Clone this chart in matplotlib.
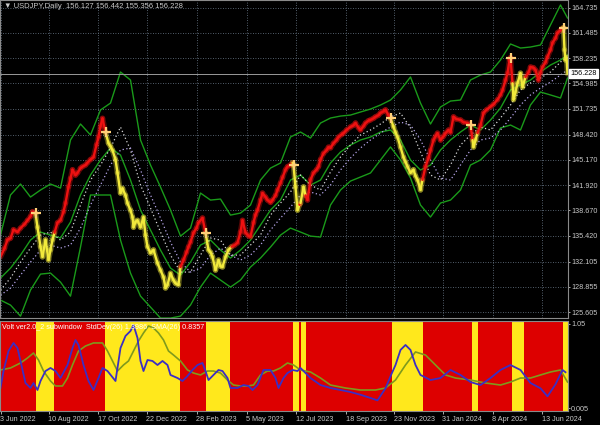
import numpy as np
import matplotlib
matplotlib.use("Agg")
import matplotlib.pyplot as plt
from matplotlib.collections import LineCollection

plt.rcParams["font.family"] = ["Liberation Sans", "DejaVu Sans"]

# ---- price data (x = bar index, one bar per trading day) ----
close_x = [0, 4, 7, 10, 13, 17, 20, 24, 27, 30, 32, 35,
           37, 40, 42, 45, 48, 50, 52, 54,
           57, 60, 63, 65, 68, 70, 72, 75, 77, 80, 82, 85, 87, 90, 93, 96, 98, 100, 102, 105,
           108, 110, 112, 115, 117, 120, 122, 125, 127, 130, 132, 133, 135, 137, 140, 143, 145, 147,
           150, 153, 157, 160, 163, 165, 167, 170, 173, 175, 178,
           180, 183, 186, 188, 190, 193, 196, 198, 202, 205,
           208, 210, 212, 215, 218, 220, 222, 225, 228, 231,
           234, 237, 240, 242, 245, 248, 250, 253, 255, 257, 260, 262, 265, 267, 270, 272, 275, 277,
           280, 282, 285, 287, 290, 292, 293,
           295, 297, 299, 300, 303, 305, 307,
           310, 313, 316, 318, 320, 323, 326, 328, 330, 333, 336, 338, 341, 343, 346, 350, 353, 355,
           358, 360, 363, 365, 368, 370, 373, 375, 378, 380, 383, 385, 388, 390,
           393, 395, 397, 400, 403, 405, 407, 410, 413, 415, 417, 420, 422,
           425, 428, 430, 433, 435, 437, 440, 443, 445, 448, 450, 453, 456, 460, 463, 467, 470,
           472, 473, 475, 477,
           480, 483, 486, 490, 493, 497, 500, 502, 505, 507, 509, 510,
           512, 513, 515, 517, 520, 522,
           525, 528, 530, 533, 535, 538, 540, 542, 545, 547, 550, 552, 555, 557, 560, 562, 563,
           564, 565, 566, 567]
close = [132.7, 133.8, 134.9, 135.1, 136.2, 135.9, 136.4, 136.9, 137.4, 137.9, 138.5, 138.3,
         136.5, 134.0, 132.7, 134.9, 132.3, 133.6, 134.9, 135.8,
         137.1, 137.4, 138.5, 139.6, 141.7, 142.8, 143.9, 143.2, 143.5, 144.1, 144.3, 144.5, 144.8, 145.2, 145.5, 147.1, 148.1, 149.5, 150.5, 148.7,
         147.3, 146.9, 146.4, 145.2, 143.5, 140.9, 141.5, 140.6, 139.6, 138.7, 137.8, 136.5, 137.2, 137.4, 136.5, 137.8, 135.5, 134.0,
         133.2, 133.6, 131.9, 131.0, 130.1, 128.7, 129.1, 130.6, 129.7, 129.3, 129.1,
         131.4, 132.3, 133.3, 134.0, 134.6, 135.8, 136.4, 137.1, 137.7, 135.8,
         133.6, 133.3, 132.7, 131.0, 132.3, 131.5, 131.4, 132.7, 133.6, 134.0,
         134.2, 134.5, 135.9, 137.4, 135.8, 135.4, 135.3, 137.1, 138.1, 138.7, 140.0, 140.9, 140.4, 140.0, 139.7, 140.0, 140.6, 141.3,
         142.2, 142.9, 143.9, 144.3, 144.5, 144.8, 144.5,
         141.7, 138.7, 139.4, 139.6, 141.7, 140.6, 140.0,
         142.6, 143.5, 143.9, 144.3, 145.2, 146.0, 146.4, 146.8, 146.7, 147.3, 147.7, 148.1, 148.4, 148.6, 149.0, 149.4, 149.6, 149.9,
         149.3, 149.0, 149.5, 149.9, 150.2, 150.3, 150.5, 150.7, 150.9, 151.2, 151.4, 151.6, 150.9, 150.5,
         149.4, 148.7, 148.1, 146.8, 145.5, 144.9, 144.3, 143.5, 143.9, 143.1, 142.6, 141.3, 142.6,
         144.3, 145.4, 146.4, 147.7, 148.2, 148.6, 147.7, 148.2, 148.6, 149.0, 148.7, 150.7, 150.4, 150.3, 150.0, 149.9, 149.6,
         147.7, 146.8, 147.7, 148.6,
         149.6, 151.2, 151.6, 152.0, 152.3, 152.9, 153.5, 154.1, 155.4, 156.3, 158.0, 158.3,
         155.0, 152.9, 153.9, 155.0, 156.3, 154.5,
         155.8, 156.4, 157.1, 157.0, 156.7, 155.4, 156.4, 157.1, 157.7, 158.4, 159.3, 160.2, 160.8, 161.5, 161.8, 162.1, 162.1,
         159.3, 158.0, 158.3, 156.228]

# ---- envelope / moving average lines, read every 10 bars ----
band_x = [0, 10, 20, 30, 40, 50, 60, 70, 80, 90, 100, 110, 120, 130, 140, 150, 160, 170, 180, 190,
          200, 210, 220, 230, 240, 250, 260, 270, 280, 290, 300, 310, 320, 330, 340, 350, 360, 370,
          380, 390, 400, 410, 420, 430, 440, 450, 460, 470, 480, 490, 500, 510, 520, 530, 540, 550,
          560, 567]
upper = [135.50, 140.65, 142.06, 140.39, 141.29, 142.06, 141.54, 147.72, 149.77, 148.36, 151.57, 152.46,
         156.45, 155.42, 147.72, 144.50, 141.67, 138.72, 135.37, 136.40, 140.90, 140.00, 140.13, 138.07,
         138.33, 139.36, 142.57, 144.11, 144.76, 148.10, 148.74, 147.97, 149.89, 150.54, 150.79, 150.92,
         151.31, 151.69, 152.21, 152.85, 154.14, 155.81, 152.46, 149.77, 151.95, 152.72, 152.85, 155.42,
         156.06, 156.45, 157.99, 160.05, 159.53, 159.66, 159.92, 162.49, 165.06, 163.39]
inner = [129.98, 131.26, 132.93, 134.86, 135.89, 135.50, 135.12, 137.17, 140.65, 143.22, 145.15, 146.69,
         145.78, 142.57, 138.72, 136.15, 133.58, 131.26, 130.36, 132.03, 134.22, 134.86, 133.58, 132.55,
         133.58, 134.86, 136.79, 138.72, 140.00, 142.57, 143.22, 141.93, 142.57, 144.76, 146.17, 147.07,
         147.72, 148.10, 148.74, 149.00, 147.72, 145.15, 143.86, 144.50, 146.43, 147.72, 148.74, 149.64,
         149.00, 150.28, 151.82, 154.14, 154.78, 155.42, 156.45, 157.35, 157.99, 158.63]
lower = [127.15, 126.51, 125.09, 128.44, 130.49, 130.62, 129.46, 127.66, 133.96, 140.65, 140.65, 140.65,
         134.86, 130.62, 127.66, 126.25, 124.84, 124.84, 125.09, 126.51, 128.82, 130.62, 129.72, 128.82,
         129.72, 131.39, 132.55, 133.96, 135.50, 136.40, 135.89, 135.37, 135.25, 139.36, 141.29, 142.44,
         142.96, 143.48, 145.15, 146.82, 145.15, 142.83, 139.36, 137.82, 139.62, 140.00, 141.29, 144.50,
         145.15, 146.43, 149.26, 149.64, 149.00, 152.21, 153.88, 153.50, 153.11, 155.68]
ma_fast = [128.44, 129.98, 132.03, 133.83, 135.50, 135.89, 134.86, 135.89, 139.36, 142.57, 144.50, 146.69,
           149.38, 146.43, 141.93, 138.97, 135.89, 132.93, 130.75, 130.75, 132.93, 135.12, 134.86, 132.93,
           132.93, 134.22, 135.50, 138.07, 139.62, 141.03, 143.22, 141.93, 141.29, 143.60, 145.53, 147.07,
           148.36, 149.00, 149.77, 150.67, 151.18, 149.26, 146.17, 143.22, 142.57, 144.50, 147.07, 148.36,
           149.38, 149.00, 150.54, 152.21, 154.14, 155.04, 155.68, 156.45, 157.73, 158.38]
ma_slow = [127.79, 128.69, 130.36, 132.03, 133.58, 134.22, 133.83, 134.22, 136.40, 139.36, 141.93, 144.50,
           146.43, 146.69, 143.86, 140.65, 137.69, 134.60, 132.03, 130.75, 131.26, 132.93, 133.83, 132.93,
           132.29, 132.93, 134.22, 136.15, 137.69, 139.10, 140.65, 141.03, 140.65, 141.93, 143.86, 145.40,
           146.69, 147.72, 148.61, 149.38, 150.02, 149.64, 147.72, 145.15, 142.83, 142.57, 144.50, 146.43,
           147.72, 147.97, 149.00, 150.54, 152.21, 153.50, 154.39, 155.16, 156.06, 156.70]

# trend regime: red (up) ranges, yellow elsewhere
red_start = [0, 54, 180, 230, 299, 306, 423, 478, 524]
red_end = [35, 104, 205, 292, 300, 391, 471, 511, 562]

# turn arrows at end of up-trends
signal_x = [35, 105, 205, 293, 390, 470, 510, 563]
signal_y = [138.33, 148.74, 135.77, 144.50, 150.54, 149.64, 158.25, 162.10]

# ---- sub window: Volt ver2.0 ----
std_x = [0, 3, 8, 13, 17, 20, 25, 30, 33, 37, 40, 45, 50, 55, 60, 67, 72, 75, 78, 83, 88, 93, 98,
         102, 107, 115, 120, 125, 130, 133, 137, 140, 143, 147, 152, 157, 162, 167, 170, 177, 182,
         187, 192, 197, 202, 205, 208, 213, 218, 222, 227, 230, 237, 243, 248, 252, 257, 263, 270,
         275, 278, 283, 287, 292, 297, 300, 310, 320, 330, 340, 350, 360, 370, 377, 385, 390, 395,
         400, 405, 410, 415, 420, 430, 440, 450, 460, 470, 480, 490, 500, 510, 520, 530, 540, 547,
         555, 562, 565]
std_val = [0.254, 0.465, 0.714, 0.814, 0.751, 0.590, 0.316, 0.254, 0.316, 0.229, 0.341, 0.465, 0.503,
           0.465, 0.378, 0.540, 0.751, 0.851, 0.789, 0.540, 0.341, 0.229, 0.378, 0.503, 0.465, 0.341,
           0.751, 0.901, 0.963, 1.037, 0.876, 0.590, 0.465, 0.602, 0.590, 0.540, 0.590, 0.540, 0.416,
           0.378, 0.341, 0.403, 0.478, 0.540, 0.565, 0.465, 0.353, 0.416, 0.478, 0.465, 0.378, 0.254,
           0.254, 0.291, 0.279, 0.229, 0.291, 0.478, 0.478, 0.378, 0.254, 0.378, 0.440, 0.478, 0.465,
           0.503, 0.378, 0.291, 0.254, 0.229, 0.204, 0.170, 0.130, 0.100, 0.250, 0.400, 0.540, 0.727,
           0.789, 0.727, 0.540, 0.416, 0.353, 0.378, 0.478, 0.416, 0.328, 0.291, 0.378, 0.478, 0.540,
           0.478, 0.316, 0.250, 0.150, 0.300, 0.478, 0.450]
sma_x = [0, 10, 20, 27, 33, 38, 43, 50, 55, 62, 67, 72, 78, 85, 93, 102, 107, 112, 117, 123, 128,
         133, 138, 143, 148, 153, 158, 163, 168, 173, 180, 187, 193, 200, 207, 213, 220, 227, 233,
         240, 247, 253, 260, 267, 273, 280, 287, 293, 300, 310, 320, 330, 345, 360, 375, 385, 395,
         405, 415, 425, 435, 445, 455, 470, 485, 500, 510, 520, 530, 540, 550, 560, 567]
sma_val = [0.478, 0.503, 0.565, 0.627, 0.689, 0.602, 0.465, 0.341, 0.279, 0.279, 0.378, 0.540, 0.714,
           0.776, 0.814, 0.814, 0.714, 0.590, 0.465, 0.540, 0.590, 0.714, 0.838, 0.938, 1.025, 1.000,
           0.938, 0.851, 0.714, 0.664, 0.590, 0.478, 0.440, 0.416, 0.465, 0.465, 0.440, 0.353, 0.291,
           0.279, 0.279, 0.291, 0.416, 0.465, 0.465, 0.503, 0.565, 0.540, 0.478, 0.453, 0.378, 0.291,
           0.254, 0.229, 0.229, 0.254, 0.353, 0.540, 0.702, 0.664, 0.540, 0.416, 0.378, 0.353, 0.316,
           0.291, 0.328, 0.378, 0.378, 0.416, 0.453, 0.478, 0.328]

date_pos = [0, 48, 97, 146, 196, 246, 295, 345, 393, 442, 492, 541]
date_labels = ["3 Jun 2022", "10 Aug 2022", "17 Oct 2022", "22 Dec 2022", "28 Feb 2023",
               "5 May 2023", "12 Jul 2023", "18 Sep 2023", "23 Nov 2023", "31 Jan 2024",
               "8 Apr 2024", "13 Jun 2024"]
price_ticks = [164.735, 161.485, 158.235, 154.985, 151.735, 148.420, 145.170, 141.920,
               138.670, 135.420, 132.105, 128.855, 125.605]
last_price = 156.228

RED = "#ee1111"
YEL = "#f2ea3c"
GRID = "#6e7f90"
TXT = "#c8c8c8"

fig = plt.figure(figsize=(6, 4.25), dpi=100, facecolor="black")
W, H = 600.0, 425.0
ax = fig.add_axes([0, 1 - 318 / H, 568 / W, 318 / H], facecolor="black")
ax2 = fig.add_axes([0, 1 - 411 / H, 568 / W, 90 / H])

for a in (ax, ax2):
    for s in a.spines.values():
        s.set_color("#8a8a8a")
        s.set_linewidth(0.8)
    a.set_xlim(-0.5, 567.5)

# main window
ax.set_ylim(124.85, 165.70)
ax.set_xticks(date_pos)
ax.tick_params(axis="x", bottom=False, labelbottom=False)
ax.yaxis.tick_right()
ax.set_yticks(price_ticks)
ax.set_yticklabels(["%.3f" % p for p in price_ticks])
ax.tick_params(axis="y", colors=TXT, labelsize=5.2, length=1.5, pad=0.6, width=0.6)
ax.grid(True, color=GRID, ls=(0, (1, 2)), lw=0.6)
ax.set_axisbelow(True)

ax.plot(band_x, upper, color="#1a9a1a", lw=1.0)
ax.plot(band_x, inner, color="#1a9a1a", lw=1.0)
ax.plot(band_x, lower, color="#1a9a1a", lw=1.0)
ax.plot(band_x, ma_fast, color="#d8d8d8", lw=0.9, ls=(0, (1, 2)))
ax.plot(band_x, ma_slow, color="#b4a4e8", lw=0.9, ls=(0, (1, 2)))
ax.axhline(last_price, color="#9a9a9a", lw=0.7)

cx = np.array(close_x, dtype=float)
cy = np.array(close, dtype=float)
mids = (cx[:-1] + cx[1:]) / 2


def in_red(x):
    return any(s <= x <= e for s, e in zip(red_start, red_end))


seg_cols = [RED if in_red(m) else YEL for m in mids]
segs = np.stack([np.column_stack([cx[:-1], cy[:-1]]),
                 np.column_stack([cx[1:], cy[1:]])], axis=1)
# wide faint body + sharp core to mimic the dense daily candles
ax.add_collection(LineCollection(segs, colors=seg_cols, linewidths=4.0, alpha=0.35,
                                 capstyle="round"))
ax.add_collection(LineCollection(segs, colors=seg_cols, linewidths=1.7, capstyle="round"))
ax.plot(signal_x, signal_y, ls="none", marker="+", ms=7, mew=1.6, color="#ffcf78")

ax.annotate("%.3f" % last_price, xy=(1.0, last_price), xycoords=("axes fraction", "data"),
            xytext=(1.8, 0), textcoords="offset points", fontsize=5.2, color="black",
            va="center", ha="left",
            bbox=dict(boxstyle="square,pad=0.15", fc="white", ec="white"))

fig.text(4 / W, 1 - 7 / H, "\u25bc USDJPY,Daily  156.127 156.442 155.356 156.228",
         color=TXT, fontsize=5.5, va="center", ha="left")

# sub window
ax2.set_facecolor("#ffe81c")
for s, e in zip(red_start, red_end):
    ax2.axvspan(s - 0.5, e + 0.5, color="#dd0000", lw=0)
ax2.plot(sma_x, sma_val, color="#7f9a1c", lw=1.2)
ax2.plot(std_x, std_val, color="#3b2ec4", lw=1.3)
ax2.set_ylim(-0.032, 1.087)
ax2.yaxis.tick_right()
ax2.set_yticks([1.05, 0.005])
ax2.set_yticklabels(["1.05", "0.005"])
ax2.tick_params(axis="y", colors=TXT, labelsize=5.2, length=1.5, pad=0.6, width=0.6)
ax2.set_xticks(date_pos)
ax2.set_xticklabels(date_labels)
ax2.tick_params(axis="x", colors=TXT, labelsize=5.2, length=2.5, pad=1, width=0.6)
for lab in ax2.get_xticklabels():
    lab.set_horizontalalignment("left")
ax2.text(0.004, 0.97, "Volt ver2.0_2 subwindow  StdDev(26) 1.3986  SMA(26) 0.8357",
         transform=ax2.transAxes, color="white", fontsize=5.2, va="top", ha="left")

fig.savefig("out.png", dpi=100, facecolor="black")
